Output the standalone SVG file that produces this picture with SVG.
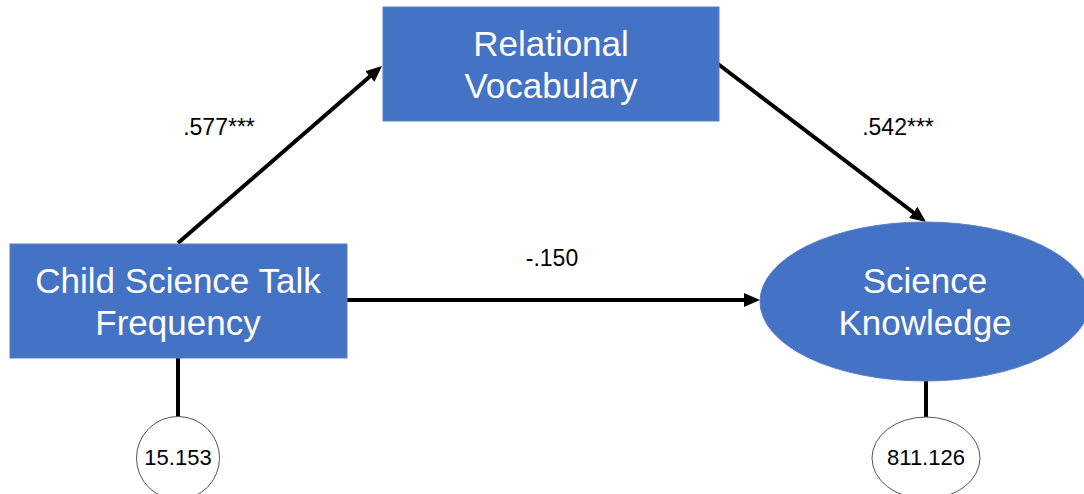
<svg xmlns="http://www.w3.org/2000/svg" width="1084" height="494" viewBox="0 0 1084 494">
<style>
.node{fill:#4472C4;stroke:#5B7FC7;stroke-width:1}
.ntext{font-family:"Liberation Sans",Arial,sans-serif;font-size:35px;fill:#ffffff;text-anchor:middle}
.err{fill:#ffffff;stroke:#555555;stroke-width:1}
.etext{font-family:"Liberation Sans",Arial,sans-serif;font-size:22px;fill:#000000;text-anchor:middle}
.lbl{font-family:"Liberation Sans",Arial,sans-serif;font-size:23px;fill:#000000;text-anchor:middle}
.conn{stroke:#000000;stroke-width:4;fill:none}
.arrow{marker-end:url(#ah)}
</style>
<defs>
<marker id="ah" markerUnits="userSpaceOnUse" viewBox="0 0 16 14" markerWidth="16" markerHeight="14" refX="11" refY="7" orient="auto">
<path d="M0,0 L16,7 L0,14 z" fill="#000000"/>
</marker>
</defs>
<g id="connectors">
<line class="conn arrow" x1="178" y1="243" x2="378.2" y2="69.3"/>
<line class="conn arrow" x1="718" y1="64" x2="922" y2="219"/>
<line class="conn arrow" x1="347" y1="300" x2="755" y2="300"/>
<line class="conn" x1="178" y1="358" x2="178" y2="417"/>
<line class="conn" x1="926" y1="381" x2="926" y2="417"/>
<text class="lbl" x="219" y="135">.577***</text>
<text class="lbl" x="898" y="135">.542***</text>
<text class="lbl" x="552" y="266">-.150</text>
</g>
<g id="relational-vocabulary">
<rect class="node" x="383" y="7" width="336" height="114"/>
<text class="ntext" x="551" y="56">Relational</text>
<text class="ntext" x="551" y="98">Vocabulary</text>
</g>
<g id="child-science-talk">
<rect class="node" x="10" y="244" width="337" height="114"/>
<text class="ntext" x="178" y="293">Child Science Talk</text>
<text class="ntext" x="178" y="335">Frequency</text>
</g>
<g id="science-knowledge">
<ellipse class="node" cx="925" cy="301.5" rx="165" ry="79.5"/>
<text class="ntext" x="925" y="293">Science</text>
<text class="ntext" x="925" y="335">Knowledge</text>
</g>
<g id="error-child">
<ellipse class="err" cx="178" cy="458" rx="41.5" ry="41.5"/>
<text class="etext" x="178" y="465">15.153</text>
</g>
<g id="error-science">
<ellipse class="err" cx="926" cy="458" rx="54" ry="41"/>
<text class="etext" x="926" y="465">811.126</text>
</g>
</svg>
